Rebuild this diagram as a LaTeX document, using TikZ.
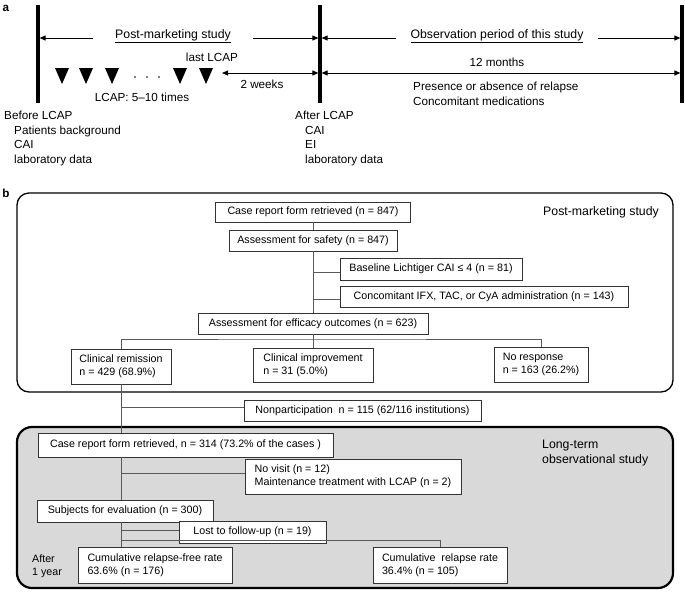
\documentclass[tikz,border=0pt]{standalone}
\usepackage{fontspec}
\setmainfont{Liberation Sans}
\usetikzlibrary{arrows.meta}
\newcommand\timefont{\fontsize{11.7}{14.4}\selectfont}
\newcommand\headfont{\fontsize{12.3}{15}\selectfont}
\newcommand\flowfont{\fontsize{10.7}{13}\selectfont}
\begin{document}
\begin{tikzpicture}[x=1pt,y=-1pt,
    bar/.style={line width=3.2pt},
    arr/.style={line width=1pt,-{Triangle[length=6pt,width=5pt]},shorten >=1.6pt},
    dbl/.style={line width=1pt,{Triangle[length=6pt,width=5pt]}-{Triangle[length=6pt,width=5pt]}},
    timelbl/.style={font=\timefont,inner sep=0pt},
    headlbl/.style={font=\headfont,inner ysep=0pt},
    box/.style={draw=black!80,line width=0.8pt,fill=white,inner sep=0pt,align=left,font=\flowfont},
    link/.style={draw=black!65,line width=0.8pt},
    outerframe/.style={line width=1.3pt,rounded corners=12pt},
  ]
  \useasboundingbox (0,0) rectangle (685,592);

  % a: time line
  \node[font=\bfseries\timefont] (lbla) at (6,8) {a};
  \coordinate (bar1top) at (38,5);  \coordinate (bar1bot) at (38,103);
  \coordinate (bar2top) at (320,5); \coordinate (bar2bot) at (320,103);
  \coordinate (bar3top) at (682,5); \coordinate (bar3bot) at (682,103);
  \draw[bar] (bar1top) -- (bar1bot);
  \draw[bar] (bar2top) -- (bar2bot);
  \draw[bar] (bar3top) -- (bar3bot);

  \node[headlbl,inner xsep=22pt,anchor=base] (pms) at (173,38) {\underline{Post-marketing study}};
  \node[headlbl,inner xsep=14pt,anchor=base] (obs) at (497,38) {\underline{Observation period of this study}};
  \draw[arr] (pms.base west) -- (pms.base west -| bar1top);
  \draw[arr] (pms.base east) -- (pms.base east -| bar2top);
  \draw[arr] (obs.base west) -- (obs.base west -| bar2top);
  \draw[arr] (obs.base east) -- (obs.base east -| bar3top);

  \foreach \x in {62,86,112,180,206}
    \fill (\x-7,68) -- (\x+7,68) -- (\x,84) -- cycle;
  \foreach \x in {135,147,159}
    \fill (\x,77) circle (0.9);

  \coordinate (lastlcap) at (222,73);
  \draw[dbl,shorten >=1.6pt] (lastlcap) -- (lastlcap -| bar2top);
  \draw[dbl,shorten >=1.6pt,shorten <=1.6pt] (lastlcap -| bar2top) -- (lastlcap -| bar3top);

  \node[timelbl] (lastlbl) at (212,57) {last LCAP};
  \node[timelbl] (times) at (142,97) {LCAP: 5--10 times};
  \node[timelbl] (twowk) at (262,84) {2 weeks};
  \node[timelbl] (months) at (497,62) {12 months};
  \node[timelbl,anchor=west,align=left] (obsitems) at (413,94)
    {Presence or absence of relapse\\Concomitant medications};
  \node[timelbl,anchor=west,align=left] (before) at (4,138.5)
    {Before LCAP\\\hspace*{10pt}Patients background\\\hspace*{10pt}CAI\\\hspace*{10pt}laboratory data};
  \node[timelbl,anchor=west,align=left] (after) at (295,138.5)
    {After LCAP\\\hspace*{10pt}CAI\\\hspace*{10pt}EI\\\hspace*{10pt}laboratory data};

  % b: flow chart
  \node[font=\bfseries\timefont] (lblb) at (6,193) {b};
  \draw[outerframe] (17,193) rectangle (673,392);
  \draw[outerframe,line width=2.2pt,fill=black!15,rounded corners=15pt] (17,427) rectangle (673,588);
  \node[font=\headfont] (pmslbl) at (601,212) {Post-marketing study};
  \node[font=\headfont,anchor=west,align=left,inner sep=0pt] (ltlbl) at (542,453)
    {Long-term\\observational study};
  \node[font=\flowfont,anchor=west,align=left,inner sep=0pt] (yearlbl) at (32,566) {After\\1 year};

  \node[box,minimum width=195pt,minimum height=20pt] (crf1) at (313,212) {Case report form retrieved (n = 847)};
  \node[box,minimum width=168pt,minimum height=21pt] (safety) at (313,240.5) {Assessment for safety (n = 847)};
  \node[box,minimum width=182pt,minimum height=22pt] (baseline) at (431,269) {Baseline Lichtiger CAI ≤ 4 (n = 81)};
  \node[box,minimum width=288pt,minimum height=21pt] (conc) at (484,296.5) {Concomitant IFX, TAC, or CyA administration (n = 143)};
  \node[box,minimum width=230pt,minimum height=21pt] (efficacy) at (313,323.5) {Assessment for efficacy outcomes (n = 623)};
  \node[box,minimum width=100pt,minimum height=35pt] (remission) at (121,366.5) {Clinical remission\\n = 429 (68.9\%)};
  \node[box,minimum width=120pt,minimum height=34pt] (improvement) at (313,365) {Clinical improvement\\n = 31 (5.0\%)};
  \node[box,minimum width=94pt,minimum height=35pt] (noresp) at (541,364.5) {No response\\n = 163 (26.2\%)};
  \node[box,minimum width=237pt,minimum height=21pt] (nonpart) at (362.5,410.5) {Nonparticipation\ \ n = 115 (62/116 institutions)};
  \node[box,minimum width=295pt,minimum height=24pt] (crf2) at (185.5,445) {Case report form retrieved, n = 314 (73.2\% of the cases )};
  \node[box,minimum width=216pt,minimum height=35pt] (novisit) at (353,476.5) {No visit (n = 12)\\Maintenance treatment with LCAP (n = 2)};
  \node[box,minimum width=176pt,minimum height=22pt] (subjects) at (125,511) {Subjects for evaluation (n = 300)};
  \node[box,minimum width=147pt,minimum height=22pt] (lost) at (252.5,532) {Lost to follow-up (n = 19)};
  \node[box,minimum width=154pt,minimum height=36pt] (relfree) at (155,565) {Cumulative relapse-free rate\\63.6\% (n = 176)};
  \node[box,minimum width=134pt,minimum height=36pt] (relapse) at (440,565) {Cumulative\ \ relapse rate\\36.4\% (n = 105)};

  \coordinate (split) at (313,339);
  \coordinate (split2) at (121,540);
  \draw[link] (crf1) -- (safety);
  \draw[link] (safety.south) -- (efficacy.north);
  \draw[link] ([yshift=-3pt]baseline.west) -- ([yshift=-3pt]baseline.west -| safety.south);
  \draw[link] ([yshift=-3pt]conc.west) -- ([yshift=-3pt]conc.west -| safety.south);
  \draw[link] (efficacy.south) -- (improvement.north);
  \draw[link] (remission.north) |- (split) -| (noresp.north);
  \draw[link] (remission.south) -- (remission.south |- crf2.north);
  \draw[link] ([yshift=3.5pt]nonpart.west) -- ([yshift=3.5pt]nonpart.west -| remission.south);
  \draw[link] (remission.south |- crf2.south) -- (remission.south |- subjects.north);
  \draw[link] ([yshift=3.5pt]novisit.west) -- ([yshift=3.5pt]novisit.west -| remission.south);
  \draw[link] (remission.south |- subjects.south) -- (remission.south |- relfree.north);
  \draw[link] ([yshift=2pt]lost.west) -- ([yshift=2pt]lost.west -| remission.south);
  \draw[link] (split2) -| (relapse.north);
\end{tikzpicture}
\end{document}
